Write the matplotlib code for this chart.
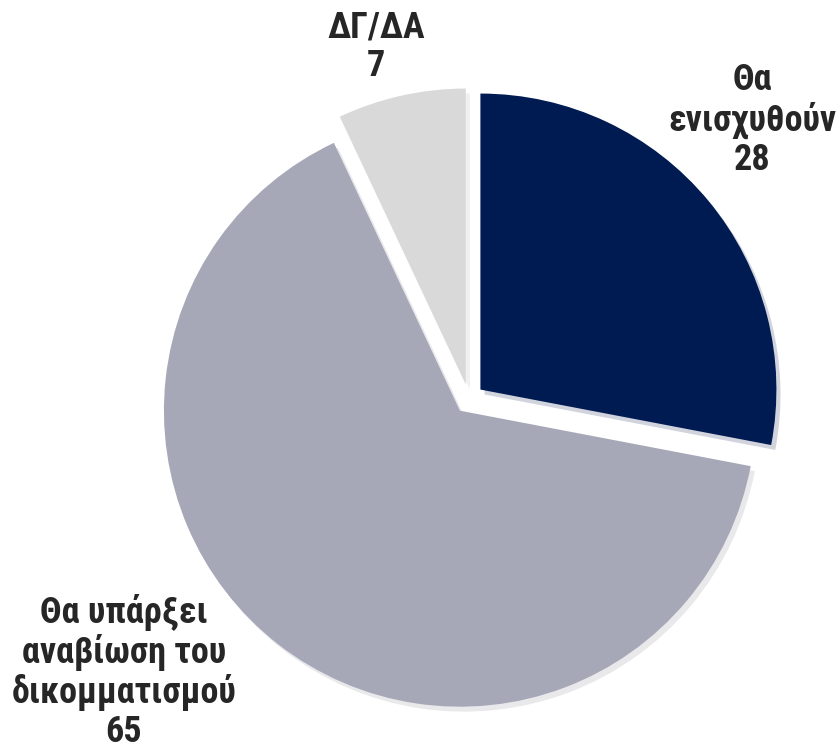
import matplotlib
matplotlib.use("Agg")
import matplotlib.pyplot as plt
from matplotlib import font_manager
from matplotlib.ft2font import FT2Font

LABELS = ["Θα\nενισχυθούν", "Θα υπάρξει\nαναβίωση του\nδικομματισμού", "ΔΓ/ΔΑ"]
VALUES = [28, 65, 7]
COLORS = ["#001A52", "#A6A8B8", "#D9D9D9"]

W, H = 838, 751
DPI = 100
CENTER_PX = (469, 399)
RADIUS_PX = 296.0
# label centres in pixel coords
LABEL_PX = [(752, 120), (124, 672), (376, 47)]

CANDIDATES = ["Roboto Condensed", "Arimo Narrow", "Liberation Sans Narrow",
              "IBM Plex Sans Condensed", "Open Sans Condensed", "Roboto"]


def pick_font():
    for name in CANDIDATES:
        for f in font_manager.fontManager.ttflist:
            if f.name == name and f.weight >= 600:
                try:
                    ft = FT2Font(f.fname)
                    if ft.get_char_index(ord("θ")) and ft.get_char_index(ord("ύ")):
                        return name
                except Exception:
                    pass
    return "DejaVu Sans"


FONT = pick_font()
plt.rcParams["font.family"] = [FONT, "DejaVu Sans"]


def px_to_data(x, y):
    return (x - CENTER_PX[0]) / RADIUS_PX, (CENTER_PX[1] - y) / RADIUS_PX


def main():
    fig = plt.figure(figsize=(W / DPI, H / DPI), dpi=DPI)
    ax = fig.add_axes([0, 0, 1, 1])
    x0, y1 = px_to_data(0, 0)
    x1, y0 = px_to_data(W, H)

    ax.pie(
        VALUES,
        colors=COLORS,
        startangle=90,
        counterclock=False,
        explode=[0.05] * len(VALUES),
        radius=1.0,
        wedgeprops={"linewidth": 0},
        shadow={"ox": 0.01, "oy": -0.012, "shade": 0.2, "alpha": 0.18},
        frame=True,
    )
    ax.set_xlim(x0, x1)
    ax.set_ylim(y0, y1)
    ax.axis("off")

    for label, value, (px, py) in zip(LABELS, VALUES, LABEL_PX):
        x, y = px_to_data(px, py)
        ax.text(x, y, f"{label}\n{value}", ha="center", va="center",
                fontsize=26, fontweight="bold", color="#262626",
                linespacing=1.1)

    fig.savefig("out.png", dpi=DPI)


if __name__ == "__main__":
    main()
